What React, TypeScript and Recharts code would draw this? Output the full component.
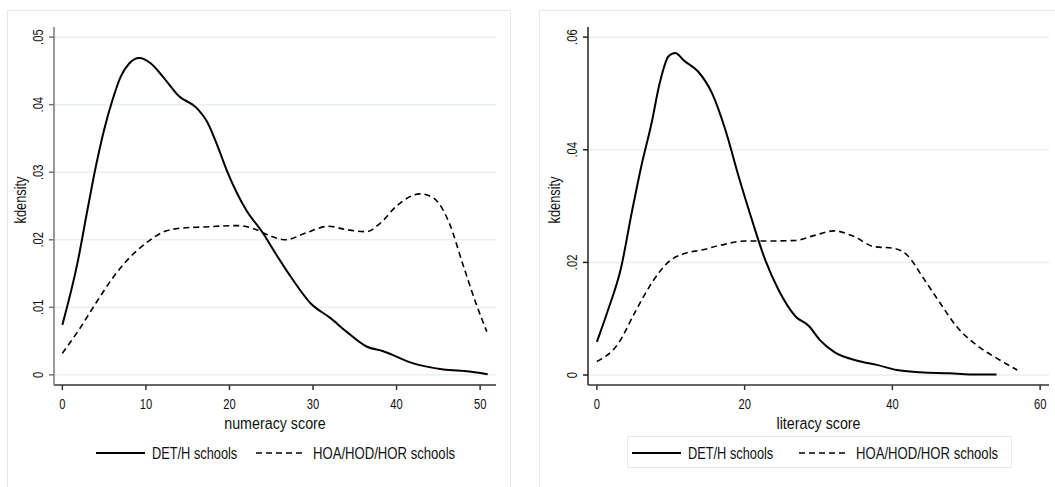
import React from "react";
import { CartesianGrid, Line, LineChart, XAxis, YAxis } from "recharts";

// kdensity estimates, numeracy score
const numDetScore = [0, 1.8, 3, 4, 5, 6, 7, 8, 9.2, 10.6, 12, 14, 16, 17.4, 18.6, 19.8, 22, 24, 25.5, 27.3, 29.7, 32.1, 34, 36.4, 38.4, 42, 45.6, 48.7, 50.9];
const numDetDensity = [0.0074, 0.0165, 0.0244, 0.0308, 0.0363, 0.0407, 0.0442, 0.0461, 0.0469, 0.0461, 0.0442, 0.0412, 0.0396, 0.0373, 0.0338, 0.0299, 0.0244, 0.021, 0.018, 0.0146, 0.0106, 0.0084, 0.0064, 0.0042, 0.0035, 0.0017, 0.0008, 0.0005, 0.0001];
const numHoaScore = [0, 2, 4, 6, 8, 10, 12, 14, 17, 21, 23, 25, 26.8, 28.9, 31.9, 34, 36.4, 38, 40, 42.8, 44.4, 46.3, 47.9, 49.5, 50.8];
const numHoaDensity = [0.0032, 0.0067, 0.0106, 0.0143, 0.0173, 0.0195, 0.0211, 0.0217, 0.0219, 0.0221, 0.0216, 0.0205, 0.02, 0.0209, 0.022, 0.0215, 0.0212, 0.0224, 0.025, 0.0268, 0.0262, 0.0225, 0.0165, 0.0106, 0.0064];

// kdensity estimates, literacy score
const litDetScore = [0, 1.5, 3.3, 4.7, 6, 7.4, 8.5, 9.7, 10.6, 11.9, 13.7, 15.6, 17.4, 19.2, 21, 22.8, 24.6, 26.9, 28.7, 30.2, 32.1, 35.7, 37.9, 40.6, 43.8, 47.8, 50.5, 54.1];
const litDetDensity = [0.0059, 0.0115, 0.0192, 0.0287, 0.037, 0.0447, 0.0518, 0.0566, 0.0572, 0.0557, 0.0539, 0.05, 0.0435, 0.0352, 0.0275, 0.0204, 0.0151, 0.0104, 0.0087, 0.0062, 0.0041, 0.0024, 0.0018, 0.0009, 0.0005, 0.0003, 0.0001, 0.0001];
const litHoaScore = [0, 2.9, 5.1, 7.4, 9.7, 11.9, 14.2, 16.9, 20.1, 23.3, 26.9, 29.5, 32.1, 34.8, 37.5, 40.2, 42, 44.2, 46.5, 48.7, 51.4, 54.1, 56.9];
const litHoaDensity = [0.0024, 0.0056, 0.011, 0.0163, 0.0201, 0.0216, 0.0222, 0.0231, 0.0238, 0.0238, 0.0239, 0.0248, 0.0256, 0.0246, 0.0228, 0.0225, 0.0213, 0.0172, 0.0127, 0.0086, 0.0053, 0.003, 0.0009];

const numXTicks = [0, 10, 20, 30, 40, 50];
const numYTicks = [0, 0.01, 0.02, 0.03, 0.04, 0.05];
const litXTicks = [0, 20, 40, 60];
const litYTicks = [0, 0.02, 0.04, 0.06];

const SERIES_DET = "DET/H schools";
const SERIES_HOA = "HOA/HOD/HOR schools";

const FONT = "'Liberation Sans', Arial, sans-serif";
const NARROW = 0.8; // horizontal squeeze to get a condensed Helvetica look
const FRAME = "#e2eaec";
const GRID = "#e8eff1";
const DASH = "6 4";

const toPoints = (xs: number[], ys: number[]) => xs.map((x, i) => ({ score: x, density: ys[i] }));

const fmtDensity = (v: number) => (v === 0 ? "0" : v.toFixed(2).replace(/^0/, ""));

// condensed text: translate, optional rotate, then squeeze along the baseline
function NText({ x, y, rotate = 0, size, anchor = "middle", squeeze = NARROW, children }: any) {
  return (
    <g transform={`translate(${x} ${y}) rotate(${rotate}) scale(${squeeze} 1)`}>
      <text x={0} y={0} textAnchor={anchor} fontSize={size} fontFamily={FONT} fill="#111">
        {children}
      </text>
    </g>
  );
}

function YTick(props: any) {
  const { x, y, payload } = props;
  return (
    <NText x={x} y={y} rotate={-90} size={14}>
      {fmtDensity(payload.value)}
    </NText>
  );
}

function XTick(props: any) {
  const { x, payload } = props;
  return (
    <NText x={x} y={409} size={14}>
      {payload.value}
    </NText>
  );
}

interface LegendProps {
  left: number;
  solidX: number;
  dashX: number;
  box?: { x: number; w: number };
}

// two-key legend under each panel, drawn as its own svg overlay
function KeyLegend({ left, solidX, dashX, box }: LegendProps) {
  return (
    <svg style={{ position: "absolute", left, top: 430 }} width={500} height={45}>
      {box ? <rect x={box.x + 0.5} y={6.5} width={box.w} height={31} fill="none" stroke={FRAME} /> : null}
      <line x1={solidX} x2={solidX + 49} y1={23} y2={23} stroke="#000" strokeWidth={2} />
      <NText x={solidX + 56} y={29} size={16} anchor="start">
        {SERIES_DET}
      </NText>
      <line x1={dashX} x2={dashX + 49} y1={23} y2={23} stroke="#000" strokeWidth={1.6} strokeDasharray={DASH} />
      <NText x={dashX + 57} y={29} size={16} anchor="start" squeeze={0.82}>
        {SERIES_HOA}
      </NText>
    </svg>
  );
}

interface PanelProps {
  width: number;
  det: Array<{ score: number; density: number }>;
  hoa: Array<{ score: number; density: number }>;
  xDomain: [number, number];
  yDomain: [number, number];
  xTicks: number[];
  yTicks: number[];
  xLabel: string;
  yAxisColor: string;
}

function Panel({ width, det, hoa, xDomain, yDomain, xTicks, yTicks, xLabel, yAxisColor }: PanelProps) {
  return (
    <LineChart width={width} height={487} margin={{ top: 27, right: 0, left: 0, bottom: 0 }}>
      <CartesianGrid vertical={false} stroke={GRID} strokeWidth={1.5} horizontalValues={yTicks} />
      <XAxis
        type="number"
        dataKey="score"
        domain={xDomain}
        allowDataOverflow
        ticks={xTicks}
        tick={<XTick />}
        tickSize={5}
        stroke="#333"
        strokeWidth={1.5}
        height={102}
        label={(p: any) => {
          const vb = p.viewBox;
          return (
            <NText x={vb.x + vb.width / 2} y={429} size={17} squeeze={0.84}>
              {xLabel}
            </NText>
          );
        }}
      />
      <YAxis
        type="number"
        domain={yDomain}
        allowDataOverflow
        ticks={yTicks}
        tick={<YTick />}
        tickSize={5}
        tickMargin={6}
        stroke={yAxisColor}
        strokeWidth={1.5}
        width={54}
        label={(p: any) => {
          const vb = p.viewBox;
          return (
            <NText x={vb.x + 26} y={200} rotate={-90} size={16}>
              kdensity
            </NText>
          );
        }}
      />
      <Line
        data={det}
        dataKey="density"
        name={SERIES_DET}
        type="monotone"
        stroke="#000"
        strokeWidth={2}
        dot={false}
        isAnimationActive={false}
      />
      <Line
        data={hoa}
        dataKey="density"
        name={SERIES_HOA}
        type="monotone"
        stroke="#000"
        strokeWidth={1.6}
        strokeDasharray={DASH}
        dot={false}
        isAnimationActive={false}
      />
    </LineChart>
  );
}

export default function App() {
  return (
    <div style={{ position: "absolute", left: 0, top: 0, width: 1055, height: 487, overflow: "hidden", background: "#fff" }}>
      <div style={{ position: "absolute", left: 7, top: 10, width: 502, height: 490, border: `1px solid ${FRAME}` }} />
      <div style={{ position: "absolute", left: 539, top: 10, width: 530, height: 490, border: `1px solid ${FRAME}` }} />
      <div style={{ position: "absolute", left: 0, top: 0 }}>
        <Panel
          width={496}
          det={toPoints(numDetScore, numDetDensity)}
          hoa={toPoints(numHoaScore, numHoaDensity)}
          xDomain={[-1, 51.9]}
          yDomain={[-0.0015, 0.0515]}
          xTicks={numXTicks}
          yTicks={numYTicks}
          xLabel="numeracy score"
          yAxisColor="#777"
        />
      </div>
      <div style={{ position: "absolute", left: 534, top: 0 }}>
        <Panel
          width={515}
          det={toPoints(litDetScore, litDetDensity)}
          hoa={toPoints(litHoaScore, litHoaDensity)}
          xDomain={[-1.2, 61.2]}
          yDomain={[-0.00177, 0.0618]}
          xTicks={litXTicks}
          yTicks={litYTicks}
          xLabel="literacy score"
          yAxisColor="#222"
        />
      </div>
      <KeyLegend left={0} solidX={96} dashX={256} />
      <KeyLegend left={520} solidX={112} dashX={279} box={{ x: 107, w: 384 }} />
    </div>
  );
}
